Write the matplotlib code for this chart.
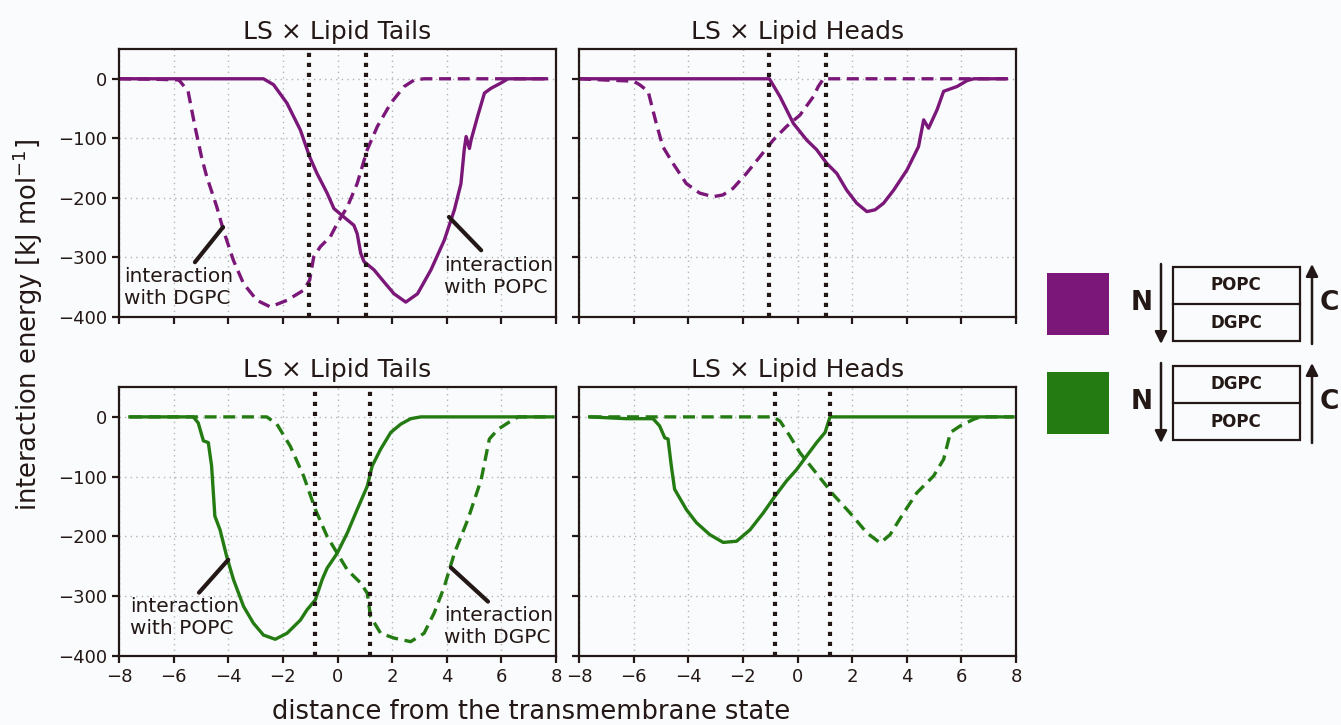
import matplotlib
matplotlib.use("Agg")
import matplotlib.pyplot as plt
from matplotlib.patches import Rectangle

# colours
PURPLE = "#7b1779"
GREEN = "#237b12"
INK = "#231815"

# shared axis settings
x_ticks = [-8, -6, -4, -2, 0, 2, 4, 6, 8]
y_ticks = [-400, -300, -200, -100, 0]
panel_titles = ["LS × Lipid Tails", "LS × Lipid Heads"]

# membrane boundaries (vertical dotted lines)
top_bounds = [-1.03, 1.05]
bottom_bounds = [-0.82, 1.18]

# --- top row (N: POPC / C: DGPC) ---
# tails, solid = interaction with POPC
tt_solid_x = [-8.0, -2.71, -2.34, -1.85, -1.36, -1.02, -0.75, -0.38, -0.13, 0.23, 0.60, 0.72,
              0.85, 0.97, 1.34, 1.70, 2.07, 2.50, 2.93, 3.42, 3.91, 4.28, 4.52, 4.64, 4.71,
              4.83, 4.89, 5.13, 5.38, 5.62, 5.99, 6.24, 7.65]
tt_solid_y = [0, 0, -10, -41, -86, -131, -159, -192, -218, -232, -246, -260,
              -293, -307, -321, -341, -361, -375, -361, -321, -271, -220, -176, -119, -97,
              -117, -103, -63, -24, -16, -7, 0, 0]
# tails, dashed = interaction with DGPC
tt_dash_x = [-8.0, -6.5, -5.8, -5.77, -5.47, -5.22, -4.98, -4.79, -4.42, -4.18, -3.81, -3.44,
             -2.95, -2.46, -1.85, -1.24, -1.02, -0.87, -0.63, -0.26, -0.01, 0.36, 0.72, 1.09,
             1.46, 1.95, 2.44, 2.81, 3.17, 7.65]
tt_dash_y = [0, -1, -2, -4, -21, -80, -131, -164, -215, -254, -305, -344,
             -372, -383, -372, -355, -338, -299, -282, -265, -243, -215, -176, -119,
             -80, -41, -13, -2, 0, 0]
# heads
th_solid_x = [-8.0, -1.03, -0.64, -0.15, 0.34, 0.70, 1.07, 1.44, 1.80, 2.17, 2.54, 2.84, 3.15,
              3.52, 4.01, 4.43, 4.62, 4.80, 5.11, 5.35, 5.84, 6.21, 6.45, 7.65]
th_solid_y = [0, 0, -30, -75, -103, -119, -142, -159, -187, -209, -223, -220, -209,
              -187, -153, -114, -69, -83, -52, -21, -13, -3, 0, 0]
th_dash_x = [-8.0, -7.1, -6.0, -5.78, -5.47, -5.17, -4.93, -4.56, -4.07, -3.58, -3.09, -2.73,
             -2.36, -1.87, -1.38, -0.89, -0.40, 0.09, 0.58, 0.76, 0.95, 7.65]
th_dash_y = [0, -2, -4, -10, -21, -75, -114, -142, -176, -192, -198, -195,
             -184, -159, -131, -103, -80, -61, -30, -13, 0, 0]

# --- bottom row (N: DGPC / C: POPC) ---
# tails, solid = interaction with POPC
bt_solid_x = [-7.6, -5.28, -5.10, -4.91, -4.73, -4.61, -4.49, -4.30, -4.06, -3.81, -3.44, -3.08,
              -2.71, -2.28, -1.85, -1.36, -1.12, -0.81, -0.56, -0.38, -0.01, 0.36, 0.72, 1.09,
              1.27, 1.58, 1.95, 2.32, 2.68, 3.05, 7.89]
bt_solid_y = [0, 0, -10, -40, -43, -82, -166, -189, -233, -272, -317, -345,
              -365, -372, -362, -340, -323, -306, -272, -253, -228, -194, -155, -116,
              -82, -54, -26, -12, -3, 0, 0]
# tails, dashed = interaction with DGPC
bt_dash_x = [-7.6, -2.59, -2.22, -1.73, -1.24, -0.81, -0.38, -0.01, 0.36, 0.85, 1.09, 1.21,
             1.58, 2.07, 2.68, 3.17, 3.54, 3.91, 4.28, 4.77, 5.26, 5.56, 5.87, 6.24, 6.61, 7.89]
bt_dash_y = [0, 0, -12, -49, -99, -155, -200, -228, -256, -278, -295, -334,
             -362, -370, -376, -362, -328, -284, -228, -172, -105, -37, -21, -10, 0, 0]
# heads
bh_solid_x = [-7.61, -6.27, -5.29, -5.05, -4.86, -4.74, -4.62, -4.50, -4.07, -3.70, -3.21, -2.72,
              -2.23, -1.74, -1.26, -0.83, -0.40, -0.03, 0.34, 0.70, 1.01, 1.19, 7.89]
bh_solid_y = [0, -3, -3, -15, -35, -37, -82, -121, -155, -177, -197, -210,
              -208, -189, -161, -133, -107, -88, -65, -43, -26, 0, 0]
bh_dash_x = [-7.61, -0.89, -0.64, -0.28, 0.09, 0.58, 1.07, 1.31, 1.93, 2.54, 3.03, 3.39,
             3.88, 4.37, 4.98, 5.35, 5.60, 5.96, 6.45, 6.70, 7.89]
bh_dash_y = [0, 0, -7, -32, -60, -88, -116, -130, -161, -194, -211, -197,
             -161, -127, -99, -71, -26, -15, -4, 0, 0]

plt.rcParams["font.family"] = "DejaVu Sans"
plt.rcParams["text.color"] = INK

fig = plt.figure(figsize=(13.41, 7.25), dpi=100, facecolor="#f9fbfd")

W, H = 1341.0, 725.0
def px_axes(x0, y0, x1, y1):
    return fig.add_axes([x0 / W, 1 - y1 / H, (x1 - x0) / W, (y1 - y0) / H])

ax_tl = px_axes(119, 49, 556, 317)
ax_tr = px_axes(579, 49, 1016, 317)
ax_bl = px_axes(119, 387, 556, 656)
ax_br = px_axes(579, 387, 1016, 656)

panels = [
    (ax_tl, PURPLE, tt_solid_x, tt_solid_y, tt_dash_x, tt_dash_y, top_bounds, panel_titles[0]),
    (ax_tr, PURPLE, th_solid_x, th_solid_y, th_dash_x, th_dash_y, top_bounds, panel_titles[1]),
    (ax_bl, GREEN, bt_solid_x, bt_solid_y, bt_dash_x, bt_dash_y, bottom_bounds, panel_titles[0]),
    (ax_br, GREEN, bh_solid_x, bh_solid_y, bh_dash_x, bh_dash_y, bottom_bounds, panel_titles[1]),
]

for ax, col, sx, sy, dx, dy, bounds, title in panels:
    ax.set_facecolor("#f9fbfd")
    ax.plot(sx, sy, color=col, lw=2.4, solid_joinstyle="round")
    ax.plot(dx, dy, color=col, lw=2.4, dashes=(3.6, 2.0))
    for b in bounds:
        ax.axvline(b, color=INK, lw=3.0, ls=(0, (1, 1.4)))
    ax.set_xlim(-8, 8)
    ax.set_ylim(-400, 50)
    ax.set_xticks(x_ticks)
    ax.set_yticks(y_ticks)
    ax.grid(True, color="#b5b5b5", ls=(0, (1, 3)), lw=1.0)
    ax.set_axisbelow(True)
    for sp in ax.spines.values():
        sp.set_linewidth(1.6)
        sp.set_color(INK)
    ax.tick_params(direction="out", length=5, width=1.6, color=INK,
                   labelsize=13, labelcolor=INK)
    ax.set_title(title, fontsize=18, color=INK, pad=7)

for ax in (ax_tl, ax_tr):
    ax.tick_params(labelbottom=False)
for ax in (ax_tr, ax_br):
    ax.tick_params(labelleft=False)

# annotations
ann_kw = dict(arrowprops=dict(arrowstyle="-", lw=3.0, color=INK, shrinkA=0, shrinkB=0))
txt_kw = dict(fontsize=14.5, ha="left", va="top", linespacing=1.2, color=INK)

ax_tl.annotate("", xy=(-4.19, -249), xytext=(-5.22, -308), **ann_kw)
ax_tl.text(-7.8, -316, "interaction\nwith DGPC", **txt_kw)
ax_tl.annotate("", xy=(4.08, -232), xytext=(5.26, -288), **ann_kw)
ax_tl.text(3.9, -297, "interaction\nwith POPC", **txt_kw)

ax_bl.annotate("", xy=(-4.0, -239), xytext=(-5.07, -294), **ann_kw)
ax_bl.text(-7.6, -302, "interaction\nwith POPC", **txt_kw)
ax_bl.annotate("", xy=(4.15, -252), xytext=(5.51, -309), **ann_kw)
ax_bl.text(3.9, -317, "interaction\nwith DGPC", **txt_kw)

fig.text(0.021, 0.552, "interaction energy [kJ mol$^{-1}$]", rotation=90,
         ha="center", va="center", fontsize=18.5, color=INK)
fig.text(0.396, 0.018, "distance from the transmembrane state", ha="center",
         va="center", fontsize=18.5, color=INK)

# legend sketch on the right, in pixel coordinates
lg = fig.add_axes([0, 0, 1, 1], facecolor="none")
lg.set_xlim(0, W)
lg.set_ylim(H, 0)
lg.axis("off")

rows = [(PURPLE, 266, ["POPC", "DGPC"]), (GREEN, 365, ["DGPC", "POPC"])]
for col, top, names in rows:
    lg.add_patch(Rectangle((1047, top + 7), 62, 62, facecolor=col, edgecolor="none"))
    lg.text(1142, top + 37, "N", fontsize=19, fontweight="bold", ha="center", va="center")
    lg.annotate("", xy=(1161, top + 78), xytext=(1161, top - 2),
                arrowprops=dict(arrowstyle="-|>", lw=1.8, color=INK, mutation_scale=18,
                                shrinkA=0, shrinkB=0))
    lg.add_patch(Rectangle((1173, top + 1), 127, 74, facecolor="none", edgecolor=INK, lw=1.6))
    lg.plot([1173, 1300], [top + 38, top + 38], color=INK, lw=1.6)
    lg.text(1236, top + 19, names[0], fontsize=12, fontweight="bold", ha="center", va="center")
    lg.text(1236, top + 57, names[1], fontsize=12, fontweight="bold", ha="center", va="center")
    lg.annotate("", xy=(1312, top - 2), xytext=(1312, top + 78),
                arrowprops=dict(arrowstyle="-|>", lw=1.8, color=INK, mutation_scale=18,
                                shrinkA=0, shrinkB=0))
    lg.text(1320, top + 37, "C", fontsize=19, fontweight="bold", ha="left", va="center")

fig.savefig("out.png", dpi=100, facecolor=fig.get_facecolor())
